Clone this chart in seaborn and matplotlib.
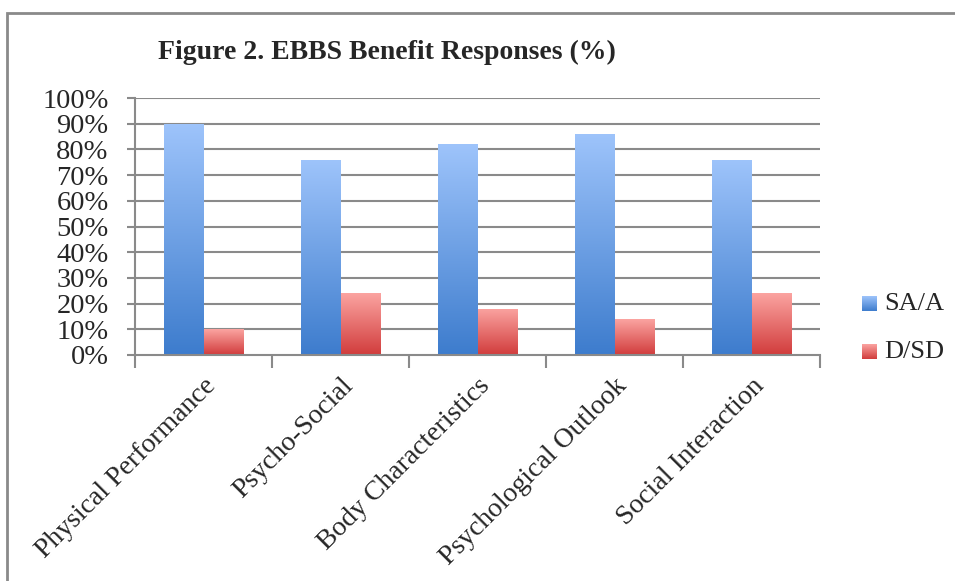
import numpy as np
import pandas as pd
import matplotlib
matplotlib.use("Agg")
import matplotlib.pyplot as plt
from matplotlib.colors import LinearSegmentedColormap
from matplotlib.patches import Rectangle
import seaborn as sns

categories = ["Physical Performance", "Psycho-Social", "Body Characteristics",
              "Psychological Outlook", "Social Interaction"]
agree = [90, 76, 82, 86, 76]      # SA/A
disagree = [10, 24, 18, 14, 24]   # D/SD
series = ["SA/A", "D/SD"]
yticks = [0, 10, 20, 30, 40, 50, 60, 70, 80, 90, 100]

df = pd.DataFrame({
    "category": categories * 2,
    "group": [series[0]] * len(categories) + [series[1]] * len(categories),
    "value": agree + disagree,
})

sns.set_theme(style="white")
plt.rcParams["font.family"] = ["Liberation Serif", "DejaVu Serif"]

fig = plt.figure(figsize=(9.55, 5.81), dpi=100)
ax = fig.add_axes([135 / 955, 1 - 355 / 581, 685 / 955, 257 / 581])

grid_col = "#8a8a8a"
for t in yticks[1:]:
    ax.axhline(t, color=grid_col, lw=1.5, zorder=0)

sns.barplot(data=df, x="category", y="value", hue="group", order=categories,
            hue_order=series, width=0.57, ax=ax, legend=False,
            palette=["#5f95e0", "#e06868"], saturation=1, zorder=2)

cmaps = {
    0: LinearSegmentedColormap.from_list("b", ["#3d7ccd", "#9ec4fb"]),
    1: LinearSegmentedColormap.from_list("r", ["#d13c3c", "#fba4a1"]),
}
grad = np.linspace(0, 1, 256).reshape(-1, 1)
bars = ax.patches
n = len(categories)
for i, p in enumerate(bars):
    cm = cmaps[0] if i < n else cmaps[1]
    x0, y0 = p.get_x(), p.get_y()
    w, h = p.get_width(), p.get_height()
    p.set_facecolor("none")
    p.set_edgecolor("none")
    img = ax.imshow(grad, cmap=cm, origin="lower", aspect="auto",
                    extent=[x0, x0 + w, y0, y0 + h], zorder=2)
    img.set_clip_path(p)

ax.set_xlim(-0.5, n - 0.5)
ax.set_ylim(0, 100)
ax.set_yticks(yticks)
ax.set_yticklabels([f"{t}%" for t in yticks], fontsize=20.5)
ax.set_xticks(range(n))
ax.set_xticklabels(categories, rotation=45, ha="right", rotation_mode="anchor",
                   fontsize=20)
ax.set_xticks(np.arange(-0.5, n, 1.0), minor=True)
ax.tick_params(axis="x", which="major", length=0, pad=13)
ax.tick_params(axis="x", which="minor", length=9, width=1.5, color=grid_col,
               direction="out", bottom=True)
ax.tick_params(axis="y", length=6, width=1.5, color=grid_col, direction="out",
               left=True, pad=13)
ax.set_xlabel("")
ax.set_ylabel("")
for s in ["top", "right"]:
    ax.spines[s].set_visible(False)
for s in ["left", "bottom"]:
    ax.spines[s].set_color(grid_col)
    ax.spines[s].set_linewidth(1.5)

fig.text(158 / 955, 1 - 52 / 581, "Figure 2. EBBS Benefit Responses (%)",
         fontsize=20, fontweight="bold", va="center", ha="left")

# legend with gradient swatches
for j, (lab, yc) in enumerate(zip(series, [304, 352])):
    sw = fig.add_axes([862 / 955, 1 - (yc + 7) / 581, 15 / 955, 15 / 581])
    sw.imshow(grad, cmap=cmaps[j], origin="lower", aspect="auto")
    sw.set_axis_off()
    fig.text(884 / 955, 1 - yc / 581, lab, fontsize=19, va="center", ha="left")

# chart frame
fig.patches.append(Rectangle((7 / 955, -0.1), 1.2, 1 - 13 / 581 + 0.1,
                             transform=fig.transFigure, fill=False,
                             edgecolor="#8a8a8a", lw=2, clip_on=False))

fig.savefig("out.png", dpi=100)
